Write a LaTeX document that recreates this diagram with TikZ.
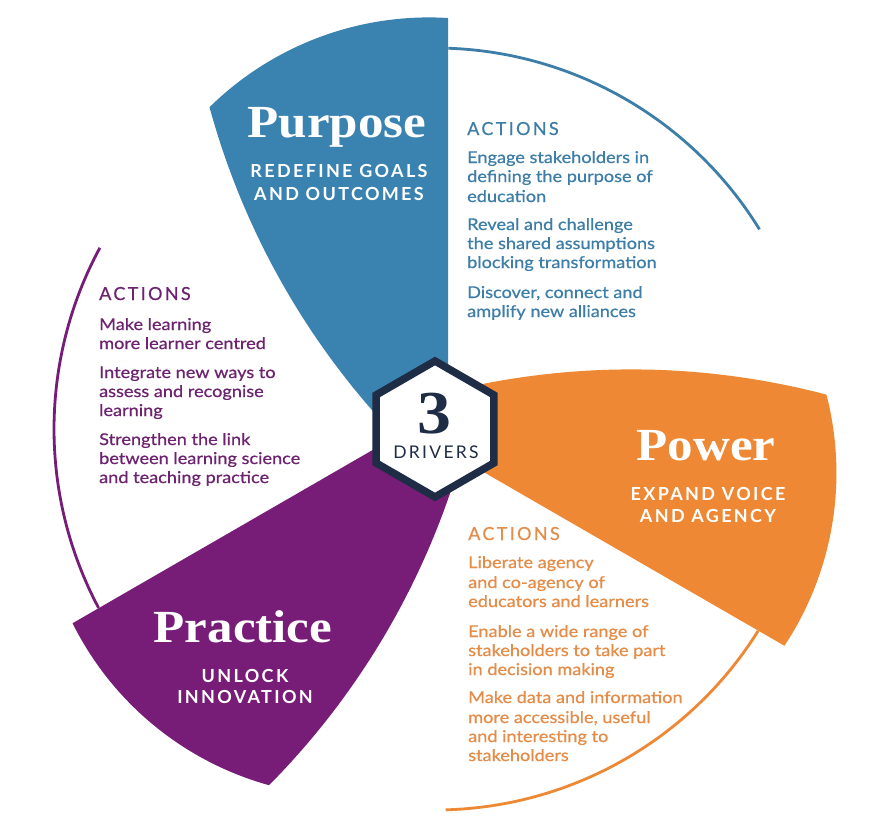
\documentclass[tikz,border=0pt]{standalone}
\usepackage{fontspec}
\setmainfont{Lato}
\newfontfamily\serifbold[FakeStretch=1.11]{Liberation Serif}
\newfontfamily\capsfont[LetterSpace=13,FakeBold=0.5]{Lato}
\newfontfamily\subfont[LetterSpace=13]{Lato}
\newfontfamily\bodyfont[FakeStretch=1.12,FakeBold=0.6]{Lato}
\usetikzlibrary{shapes.geometric}
\definecolor{blueP}{HTML}{3A83B0}
\definecolor{blueT}{HTML}{3D7EA9}
\definecolor{orangeP}{HTML}{EE8834}
\definecolor{orangeT}{HTML}{E48C48}
\definecolor{purpleP}{HTML}{771D78}
\definecolor{purpleT}{HTML}{6E2371}
\definecolor{navy}{HTML}{1F2C45}
\tikzset{
  petalpath/.style={insert path={(13,411) arc[start angle=86.5,end angle=134.5,radius=313]
      arc[start angle=195.27,end angle=226,radius=767] -- (13,-27.4) -- cycle}},
  guidepath/.style={insert path={(88:381) arc[start angle=88,end angle=31.6,radius=381]}},
  guide/.style={line width=2.8pt},
  titletext/.style={anchor=base, inner sep=0pt, text=white, font=\serifbold\bfseries\fontsize{46}{46}\selectfont},
  subtext/.style={anchor=base, inner sep=0pt, text=white, font=\subfont\bfseries\fontsize{18}{20}\selectfont},
  acthead/.style={anchor=base west, inner sep=0pt, font=\capsfont\fontsize{18}{20}\selectfont},
  actline/.style={anchor=base west, inner sep=0pt, font=\bodyfont\fontsize{16.2}{19}\selectfont},
}
\begin{document}
\begin{tikzpicture}[x=1pt,y=-1pt]
\useasboundingbox (0,0) rectangle (890,838);
\fill[white] (0,0) rectangle (890,838);
\coordinate (C) at (435,429);
\begin{scope}[shift={(C)}, y=1pt]
  \draw[guide, blueT, guidepath];
  \draw[guide, orangeP, rotate=-120, guidepath];
  \draw[guide, purpleP, rotate=120, guidepath];
  \fill[blueP, petalpath];
  \fill[orangeP, rotate=-120, petalpath];
  \fill[purpleP, rotate=120, petalpath];
\end{scope}
\node[regular polygon, regular polygon sides=6, shape border rotate=30, minimum size=136pt,
      inner sep=0pt, outer sep=0pt, draw=navy, line width=7.5pt, fill=white] (hex) at (C) {};
\node[anchor=base, inner sep=0pt, text=navy, font=\serifbold\bfseries\fontsize{61}{61}\selectfont] (three) at (434,433) {3};
\node[anchor=base, inner sep=0pt, text=navy, font=\subfont\fontsize{17.5}{20}\selectfont] (drivers) at (436,458) {DRIVERS};
% titles
\node[titletext] (purpose) at (337,137) {Purpose};
\node[subtext] (purposeA) at (339,177) {REDEFINE GOALS};
\node[subtext] (purposeB) at (339,200) {AND OUTCOMES};
\node[titletext] (power) at (706,460) {Power};
\node[subtext] (powerA) at (708,500) {EXPAND VOICE};
\node[subtext] (powerB) at (708,522) {AND AGENCY};
\node[titletext] (practice) at (243,642) {Practice};
\node[subtext] (practiceA) at (245,682) {UNLOCK};
\node[subtext] (practiceB) at (245,703) {INNOVATION};
% actions
\node[acthead, text=blueT] (bhead) at (467,135) {ACTIONS};
\foreach \yy/\txt [count=\i] in {163/Engage stakeholders in, 182/defining the purpose of, 202/education,
   230/Reveal and challenge, 249/the shared assumptions, 268/blocking transformation,
   298/{Discover, connect and}, 317/amplify new alliances}
  \node[actline, text=blueT] (ba\i) at (467,\yy) {\txt};
\node[acthead, text=purpleT] (phead) at (99,300) {ACTIONS};
\foreach \yy/\txt [count=\i] in {330/Make learning, 349/more learner centred,
   378/Integrate new ways to, 397/assess and recognise, 416/learning,
   445/Strengthen the link, 464/between learning science, 483/and teaching practice}
  \node[actline, text=purpleT] (pa\i) at (99,\yy) {\txt};
\node[acthead, text=orangeT] (ohead) at (468,540) {ACTIONS};
\foreach \yy/\txt [count=\i] in {568/Liberate agency, 588/and co-agency of, 607/educators and learners,
   637/Enable a wide range of, 656/stakeholders to take part, 675/in decision making,
   703/Make data and information, 723/{more accessible, useful}, 742/and interesting to, 761/stakeholders}
  \node[actline, text=orangeT] (oa\i) at (468,\yy) {\txt};
\end{tikzpicture}
\end{document}
